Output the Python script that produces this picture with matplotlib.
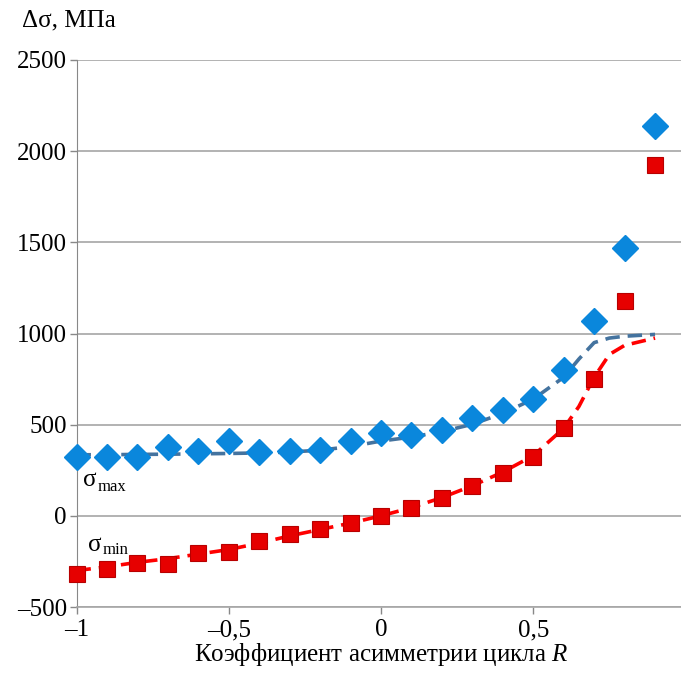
import matplotlib
matplotlib.use("Agg")
import matplotlib.pyplot as plt
from matplotlib.ticker import FixedLocator

plt.rcParams['font.family'] = ['Liberation Serif', 'DejaVu Serif']
plt.rcParams['mathtext.fontset'] = 'custom'
plt.rcParams['mathtext.it'] = 'Liberation Serif:italic'
plt.rcParams['mathtext.rm'] = 'Liberation Serif'

# experimental points
R_pts = [-1.0, -0.9, -0.8, -0.7, -0.6, -0.5, -0.4, -0.3, -0.2, -0.1,
         0.0, 0.1, 0.2, 0.3, 0.4, 0.5, 0.6, 0.7, 0.8, 0.9]
smax_pts = [323, 325, 325, 380, 356, 410, 352, 355, 360, 412,
            455, 442, 470, 537, 582, 642, 800, 1070, 1468, 2138]
smin_pts = [-318, -290, -258, -263, -203, -197, -137, -99, -71, -38,
            0, 44, 99, 164, 236, 323, 482, 748, 1178, 1922]

# calculated curves
R_line = [-1.0, -0.9, -0.8, -0.7, -0.6, -0.5, -0.4, -0.3, -0.2, -0.1,
          0.0, 0.1, 0.2, 0.3, 0.4, 0.5, 0.6, 0.65, 0.7, 0.75, 0.8, 0.9]
smax_line = [335, 335, 337, 338, 340, 342, 345, 350, 360, 380,
             410, 432, 462, 502, 562, 640, 760, 860, 950, 975, 985, 995]
smin_line = [-300, -280, -255, -235, -210, -185, -150, -110, -75, -40,
             0, 45, 100, 165, 240, 330, 480, 600, 760, 885, 935, 975]

xticks = [-1, -0.5, 0, 0.5, 1]
xticklabels = ['–1', '–0,5', '0', '0,5', '1']
yticks = [-500, 0, 500, 1000, 1500, 2000, 2500]
yticklabels = ['–500', '0', '500', '1000', '1500', '2000', '2500']

fig = plt.figure(figsize=(6.81, 6.73), dpi=100)
ax = fig.add_axes([76.5 / 681, 1 - 607 / 673, 609 / 681, (607 - 60) / 673])

ax.plot(R_line, smax_line, linestyle=(0, (4, 2.2)), color='#44739f', lw=2.6, zorder=3)
ax.plot(R_line, smin_line, linestyle=(0, (4, 2.2)), color='#ff0000', lw=2.6, zorder=3)
ax.plot(R_pts, smax_pts, linestyle='none', marker='D', ms=13, color='#0a87dc',
        markeredgecolor='#0a87dc', zorder=4, clip_on=False)
ax.plot(R_pts, smin_pts, linestyle='none', marker='s', ms=12, color='#e60000',
        markeredgecolor='#b80000', markeredgewidth=0.8, zorder=4, clip_on=False)

ax.set_xlim(-1, 1)
ax.set_ylim(-500, 2500)
ax.xaxis.set_major_locator(FixedLocator(xticks))
ax.set_xticklabels(xticklabels)
ax.yaxis.set_major_locator(FixedLocator(yticks))
ax.set_yticklabels(yticklabels)
ax.tick_params(axis='both', labelsize=18, colors='#888888', labelcolor='black',
               length=5, width=1)
ax.tick_params(axis='x', pad=4)
ax.tick_params(axis='y', pad=2)
ax.grid(axis='y', color='#a6a6a6', lw=1.2)
ax.set_axisbelow(True)
for s in ['top', 'right']:
    ax.spines[s].set_visible(False)
ax.spines['left'].set_color('#888888')
ax.spines['bottom'].set_color('#a6a6a6')
ax.spines['bottom'].set_linewidth(1.2)

ax.set_xlabel('Коэффициент асимметрии цикла $\\mathit{R}$', fontsize=18, labelpad=0)

fig.text(22 / 681, 1 - 20 / 673, 'Δσ, МПа', fontsize=18, va='center', ha='left')

# sigma labels
ax.text(-0.978, 197, 'σ', fontsize=18, va='center', ha='left')
ax.text(-0.93, 160, 'max', fontsize=12, va='center', ha='left')
ax.text(-0.962, -158, 'σ', fontsize=18, va='center', ha='left')
ax.text(-0.914, -190, 'min', fontsize=12, va='center', ha='left')

fig.savefig('out.png', dpi=100)
